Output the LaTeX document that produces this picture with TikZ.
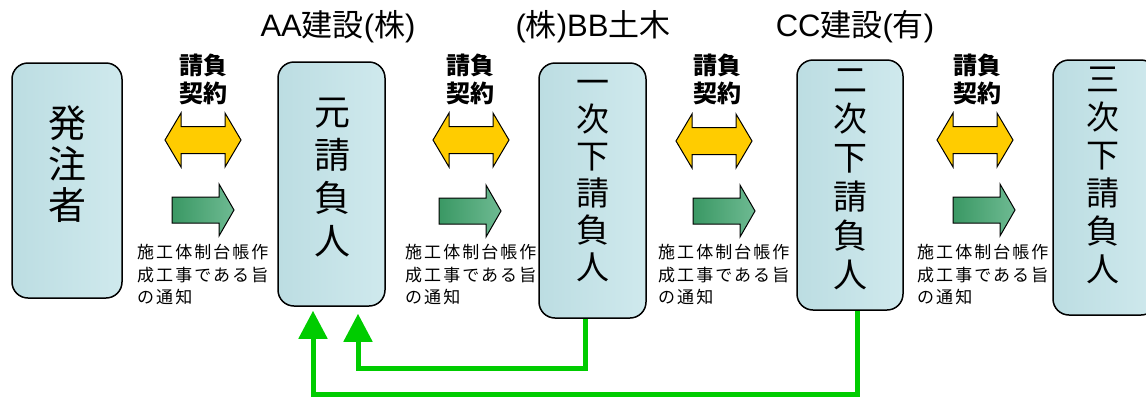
\documentclass[tikz,border=0pt]{standalone}
\usepackage{fontspec}
\setmainfont{Noto Sans CJK JP}
\newfontfamily\lat{Liberation Sans}
\newfontfamily\ntc[LetterSpace=12]{Noto Sans CJK JP}
\usetikzlibrary{arrows.meta}
\definecolor{boxL}{RGB}{188,221,226}
\definecolor{boxR}{RGB}{207,233,237}
\definecolor{gold}{RGB}{255,204,0}
\definecolor{grL}{RGB}{58,152,100}
\definecolor{grR}{RGB}{110,186,146}
\definecolor{gbright}{RGB}{0,204,0}
\begin{document}
\begin{tikzpicture}[x=1pt,y=1pt,
  box/.style={draw=black, line width=1.5pt, rounded corners=16pt, left color=boxL, right color=boxR, inner sep=0pt},
  boxtext/.style={align=center, inner sep=0pt},
  toplab/.style={inner sep=0pt, font=\fontsize{31}{34}\selectfont},
  keiyaku/.style={align=center, inner sep=0pt, font=\fontsize{24}{28}\selectfont\bfseries},
  tsuchi/.style={align=left, inner sep=0pt, anchor=west, font=\fontsize{17}{22.5}\selectfont\ntc},
  gconn/.style={draw=gbright, line width=5pt, -{Triangle[width=28pt,length=28pt]}},
  dblarrow/.pic={\draw[line width=1pt, fill=gold, line join=miter] (0,0) -- (16,27) -- (16,13.5) -- (60,13.5) -- (60,27) -- (76,0) -- (60,-27) -- (60,-13.5) -- (16,-13.5) -- (16,-27) -- cycle;},
  grarrow/.pic={\draw[line width=1pt, left color=grL, right color=grR, line join=miter] (0,13) -- (47,13) -- (47,26) -- (62,0) -- (47,-26) -- (47,-13) -- (0,-13) -- cycle;}
]
\useasboundingbox (0,0) rectangle (1146,-397);
\clip (0,0) rectangle (1146,-397);

% boxes
\node[box, minimum width=110pt, minimum height=235pt] (hatsu) at (67,-180.5) {};
\node[box, minimum width=107pt, minimum height=244pt] (moto) at (331.5,-184) {};
\node[box, minimum width=107pt, minimum height=255pt] (ichi) at (592.5,-190.5) {};
\node[box, minimum width=106pt, minimum height=250pt] (niji) at (850,-185) {};
\node[box, minimum width=104pt, minimum height=255pt] (sanji) at (1105,-187.5) {};

% box texts
\node[boxtext, font=\fontsize{38}{41}\selectfont] (hatsu-t) at (67,-164) {発\\注\\者};
\node[boxtext, font=\fontsize{36}{43}\selectfont] (moto-t) at (332,-178) {元\\請\\負\\人};
\node[boxtext, font=\fontsize{33}{37}\selectfont] (ichi-t) at (593,-181) {一\\次\\下\\請\\負\\人};
\node[boxtext, font=\fontsize{34}{39}\selectfont] (niji-t) at (850,-179) {二\\次\\下\\請\\負\\人};
\node[boxtext, font=\fontsize{33}{38}\selectfont] (sanji-t) at (1103,-175) {三\\次\\下\\請\\負\\人};

% company names
\node[toplab] (aa) at (338,-27) {{\lat AA}建設{\lat (}株{\lat )}};
\node[toplab] (bb) at (593,-27) {{\lat (}株{\lat )BB}土木};
\node[toplab] (cc) at (855,-27) {{\lat CC}建設{\lat (}有{\lat )}};

% contract labels
\node[keiyaku] (k1) at (203,-79) {請負\\契約};
\node[keiyaku] (k2) at (470,-79) {請負\\契約};
\node[keiyaku] (k3) at (717,-79) {請負\\契約};
\node[keiyaku] (k4) at (977,-79) {請負\\契約};

% block arrows
\pic at (165,-140) {dblarrow};
\pic at (433,-140) {dblarrow};
\pic at (676,-141) {dblarrow};
\pic at (937,-140) {dblarrow};
\pic at (172,-210) {grarrow};
\pic at (439,-211) {grarrow};
\pic at (693,-211) {grarrow};
\pic at (953,-210) {grarrow};

% notification texts
\node[tsuchi] (t1) at (137,-274.5) {施工体制台帳作\\成工事である旨\\の通知};
\node[tsuchi] (t2) at (405,-274.5) {施工体制台帳作\\成工事である旨\\の通知};
\node[tsuchi] (t3) at (658,-274.5) {施工体制台帳作\\成工事である旨\\の通知};
\node[tsuchi] (t4) at (917,-274.5) {施工体制台帳作\\成工事である旨\\の通知};

% green connectors
\draw[gconn] ([xshift=-7.5pt]ichi.south) -- ++(0,-50) -| ([xshift=26.5pt,yshift=-7pt]moto.south);
\draw[gconn] ([xshift=7pt]niji.south) -- ++(0,-84) -| ([xshift=-18.5pt,yshift=-4pt]moto.south);
\end{tikzpicture}
\end{document}
